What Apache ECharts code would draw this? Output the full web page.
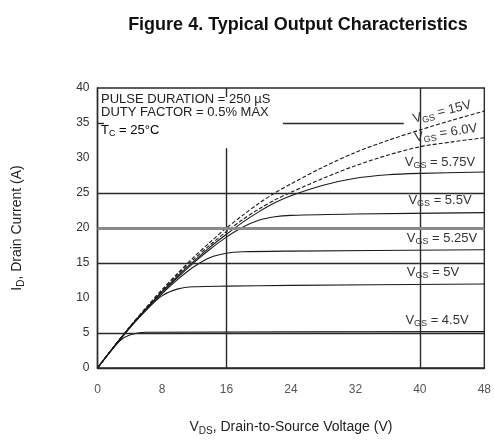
<!DOCTYPE html>
<html><head><meta charset="utf-8">
<script src="https://cdn.jsdelivr.net/npm/echarts@6/dist/echarts.min.js"></script>
<style>html,body{margin:0;padding:0;background:#fff}#c{width:494px;height:441px}</style>
</head><body><div id="c"></div>
<script>
var xTicks = [0, 8, 16, 24, 32, 40, 48];
var yTicks = [0, 5, 10, 15, 20, 25, 30, 35, 40];
var curveNames = ['15V', '6.0V', '5.75V', '5.5V', '5.25V', '5V', '4.5V'];
var vgs15 = [[0,0],[2,3.0],[4,5.9],[6,8.6],[8,11.2],[10,13.6],[12,15.9],[14,18.0],[16,20.0],[18,21.8],[20,23.5],[22,25.0],[24,26.3],[28,28.7],[32,30.8],[36,32.5],[40,34.0],[44,35.4],[48,36.7]];
var vgs60 = [[0,0],[2,3.0],[4,5.85],[6,8.5],[8,11.0],[10,13.4],[12,15.6],[14,17.6],[16,19.5],[18,21.2],[20,22.7],[22,24.0],[24,25.1],[28,27.1],[32,28.9],[36,30.4],[40,31.6],[44,32.3],[48,32.9]];
var vgs575 = [[0,0],[2,3.0],[4,5.8],[6,8.4],[8,10.9],[10,13.2],[12,15.3],[14,17.3],[16,19.1],[18,20.8],[20,22.3],[22,23.6],[24,24.6],[28,26.1],[32,27.1],[36,27.6],[40,27.8],[48,28.0]];
var vgs55 = [[0,0],[2,3.0],[4,5.8],[6,8.4],[8,10.8],[10,13.0],[12,15.1],[14,17.0],[16,18.7],[18,20.1],[20,21.1],[22,21.6],[24,21.8],[32,22.0],[48,22.2]];
var vgs525 = [[0,0],[2,3.0],[4,5.8],[6,8.3],[8,10.6],[10,12.7],[12,14.5],[14,15.8],[16,16.4],[18,16.6],[24,16.7],[48,16.9]];
var vgs50 = [[0,0],[2,2.9],[4,5.7],[6,8.2],[8,10.3],[10,11.3],[12,11.6],[16,11.7],[24,11.8],[48,12.0]];
var vgs45 = [[0,0],[2,2.9],[3,4.1],[4,4.7],[5,5.0],[6,5.1],[48,5.2]];
var curveData = [vgs15, vgs60, vgs575, vgs55, vgs525, vgs50, vgs45];
// partial grid lines seen in the figure: [x1, x2, y] and [x, y1, y2]
var hGrid = [[0,48,5],[0,48,15],[0,48,25],[23,38,35],[0,0.8,35]];
var vGrid = [[16,0,31.4],[16,38.7,40],[40,0,40]];

var chart = echarts.init(document.getElementById('c'));
var FONT = 'Liberation Sans, Arial, sans-serif';
var series = curveData.map(function (d, i) {
  return {
    type: 'line', name: curveNames[i], data: d, smooth: 0.3,
    showSymbol: false, silent: true, z: 3,
    lineStyle: {color: '#1a1a1a', width: 1.1, type: i < 2 ? [4, 2] : 'solid'}
  };
});
var gridLines = hGrid.map(function (g) { return [{coord: [g[0], g[2]]}, {coord: [g[1], g[2]]}]; })
  .concat(vGrid.map(function (g) { return [{coord: [g[0], g[1]]}, {coord: [g[0], g[2]]}]; }));
series.push({
  type: 'line', data: [], silent: true,
  markLine: {symbol: 'none', silent: true, label: {show: false},
    lineStyle: {color: '#2a2a2a', width: 1.4, type: 'solid'}, data: gridLines}
});
series.push({
  type: 'line', data: [], silent: true,
  markLine: {symbol: 'none', silent: true, label: {show: false},
    lineStyle: {color: '#8a8a8a', width: 3, type: 'solid'},
    data: [[{coord: [0, 20]}, {coord: [48, 20]}]]}
});
var sub = {
  n: {fontSize: 13, fontFamily: FONT, color: '#333'},
  s: {fontSize: 9, fontFamily: FONT, color: '#333', padding: [7, 0, 0, 0]}
};
function lab(name, cx, cy, rot) {
  return {type: 'text', x: cx, y: cy, rotation: rot * Math.PI / 180, z: 10,
    style: {text: '{n|V}{s|GS}{n| = ' + name + '}', rich: sub, fill: '#333', align: 'center', verticalAlign: 'middle'}};
}
chart.setOption({
  animation: false,
  title: {text: 'Figure 4. Typical Output Characteristics', left: 293, top: 11, textAlign: 'center',
    textStyle: {fontFamily: FONT, fontSize: 18, fontWeight: 'bold', color: '#111'}},
  grid: {left: 97.5, right: 4.5, top: 88, bottom: 71.5, show: true, borderColor: '#2a2a2a', borderWidth: 1.4},
  xAxis: {type: 'value', min: 0, max: 48, interval: 8,
    axisLine: {show: true, lineStyle: {color: '#2a2a2a', width: 1.4}}, axisTick: {show: false}, splitLine: {show: false},
    axisLabel: {margin: 16, color: '#555', fontFamily: FONT, fontSize: 12,
      formatter: function (v) { return xTicks.indexOf(v) >= 0 ? String(v) : ''; }},
    name: '{n|V}{s|DS}{n|, Drain-to-Source Voltage (V)}', nameLocation: 'middle', nameGap: 50,
    nameTextStyle: {rich: {n: {fontSize: 14, fontFamily: FONT, color: '#222'}, s: {fontSize: 10, fontFamily: FONT, color: '#222', padding: [8, 0, 0, 0]}}}},
  yAxis: {type: 'value', min: 0, max: 40, interval: 5,
    axisLine: {show: true, lineStyle: {color: '#2a2a2a', width: 1.4}}, axisTick: {show: false}, splitLine: {show: false},
    axisLabel: {margin: 8, color: '#333', fontFamily: FONT, fontSize: 12,
      formatter: function (v) { return yTicks.indexOf(v) >= 0 ? String(v) : ''; }},
    name: '{n|I}{s|D}{n|, Drain Current (A)}', nameLocation: 'middle', nameGap: 71, nameRotate: 90,
    nameTextStyle: {rich: {n: {fontSize: 14, fontFamily: FONT, color: '#222'}, s: {fontSize: 10, fontFamily: FONT, color: '#222', padding: [8, 0, 0, 0]}}}},
  graphic: [
    {type: 'text', left: 101, top: 93, z: 10, style: {text: 'PULSE DURATION = 250 µS', fontFamily: FONT, fontSize: 13, fill: '#222'}},
    {type: 'text', left: 101, top: 106, z: 10, style: {text: 'DUTY FACTOR = 0.5% MAX', fontFamily: FONT, fontSize: 13, fill: '#222'}},
    {type: 'text', left: 101, top: 124, z: 10, style: {text: '{n|T}{s|C}{n| = 25°C}', rich: sub}},
    lab('15V', 442, 112, 14),
    lab('6.0V', 446, 133, 9),
    lab('5.75V', 440, 162, 0),
    lab('5.5V', 440, 200, 0),
    lab('5.25V', 442, 238, 0),
    lab('5V', 433, 272, 0),
    lab('4.5V', 437, 320, 0)
  ],
  series: series
});
</script></body></html>
